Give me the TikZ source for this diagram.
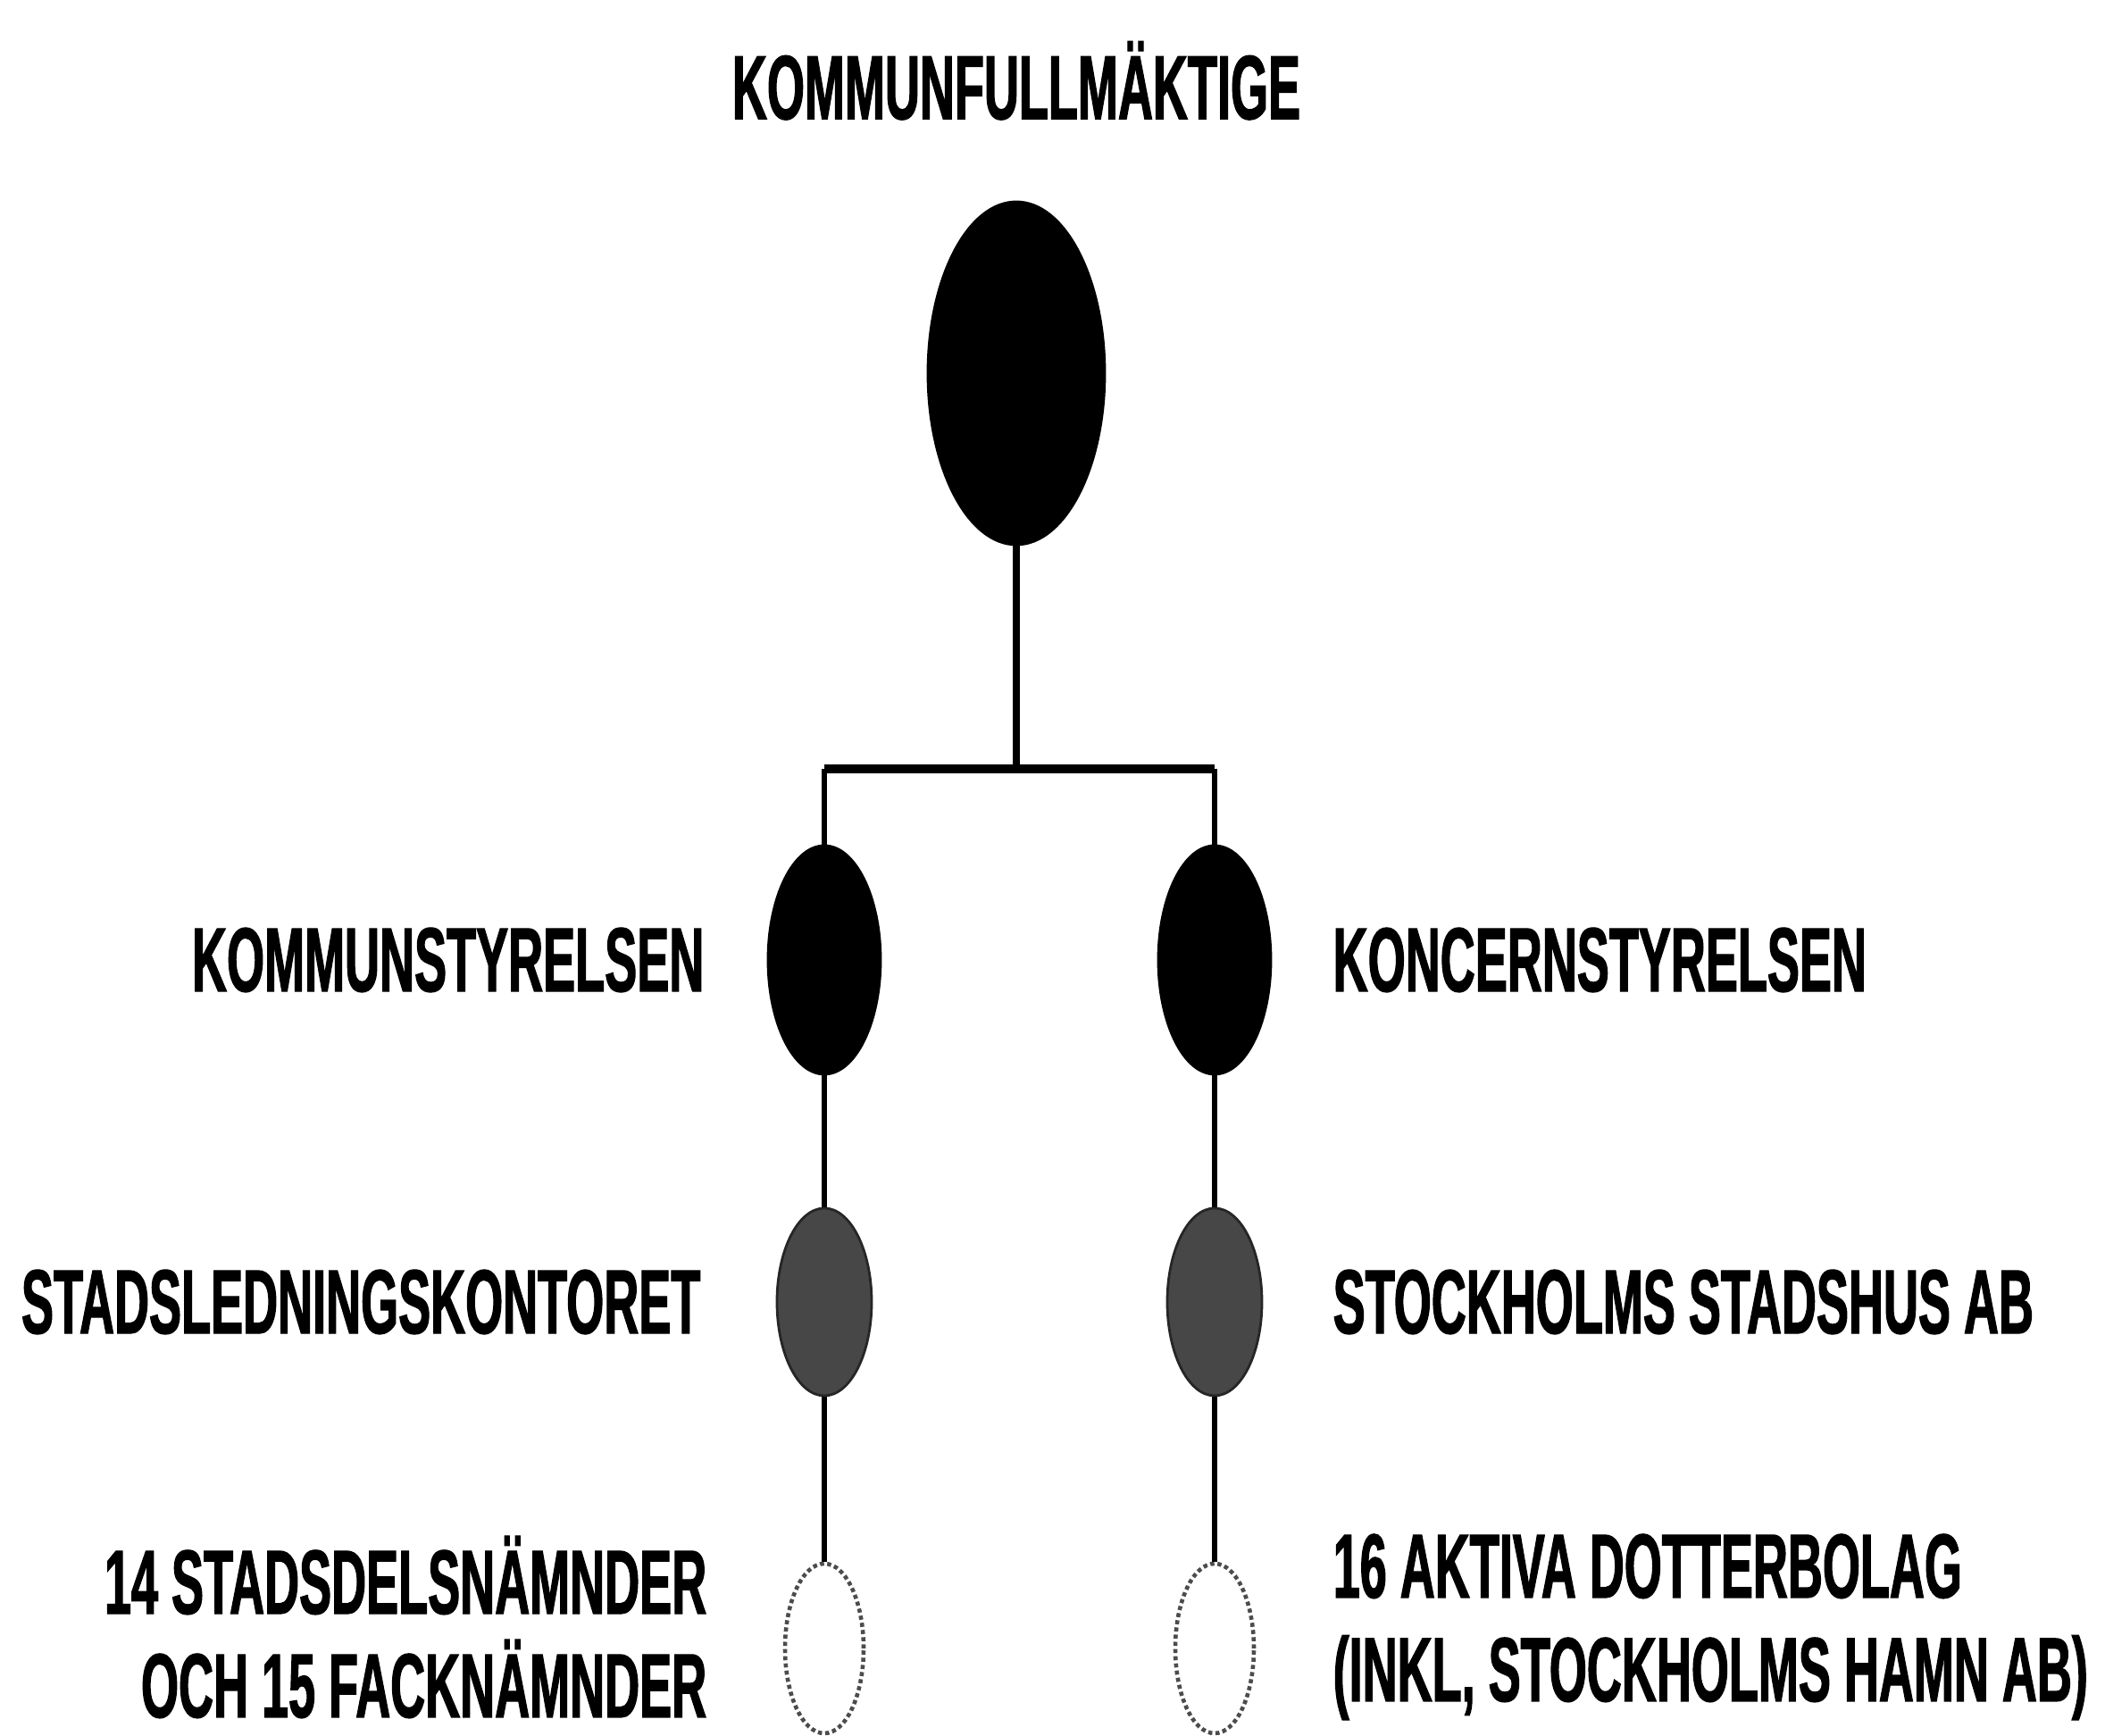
\documentclass[tikz,border=0pt]{standalone}
\usepackage{fontspec}
\newfontfamily\orgfont{Liberation Sans Bold}[FakeStretch=0.53,FakeBold=1.2]
\usetikzlibrary{positioning,shapes.geometric}

\begin{document}
\begin{tikzpicture}[on grid,node distance=2cm,
every node/.style={inner sep=0pt},
organ/.style={ellipse,fill=black,draw=black,thick},
kontor/.style={ellipse,fill=black!72,draw=black!85,thick},
namnd/.style={ellipse,fill=white,draw=black!70,densely dotted,line width=1.3pt},
etikett/.style={font=\orgfont\fontsize{29}{33}\selectfont}]

\tikzset{stam/.style={black,line width=2.1pt},
         balk/.style={black,line width=2.9pt},
         gren/.style={black,line width=1.5pt}}

\useasboundingbox (0,0) rectangle (23.57,19.44);

\node[organ] (KF) at (11.38,15.26) [minimum width=1.98cm,minimum height=3.84cm] {};
\node[etikett] (KFtext) [above=2.83cm of KF,anchor=south] {KOMMUNFULLMÄKTIGE};
\coordinate[below=4.43cm of KF] (bar);

\node[organ] (KS) [below left=2.14cm and 2.15cm of bar,anchor=center,minimum width=1.26cm,minimum height=2.56cm] {};
\node[organ] (KO) [below right=2.14cm and 2.22cm of bar,anchor=center,minimum width=1.26cm,minimum height=2.56cm] {};
\node[kontor] (SLK) [below=3.83cm of KS,minimum width=1.06cm,minimum height=2.1cm] {};
\node[kontor] (SSAB) [below=3.83cm of KO,minimum width=1.06cm,minimum height=2.1cm] {};
\node[namnd] (SDN) [below=3.88cm of SLK,minimum width=0.88cm,minimum height=1.9cm] {};
\node[namnd] (DB) [below=3.88cm of SSAB,minimum width=0.88cm,minimum height=1.9cm] {};

\node[etikett] (KStext) [left=1.34cm of KS,anchor=east] {KOMMUNSTYRELSEN};
\node[etikett] (KOtext) [right=1.32cm of KO,anchor=west] {KONCERNSTYRELSEN};
\node[etikett] (SLKtext) [left=1.38cm of SLK,anchor=east] {STADSLEDNINGSKONTORET};
\node[etikett] (SSABtext) [right=1.32cm of SSAB,anchor=west] {STOCKHOLMS STADSHUS AB};
\node[etikett,align=right] (SDNtext) [left=1.31cm of SDN,anchor=east,yshift=0.24cm] {14 STADSDELSNÄMNDER\\OCH 15 FACKNÄMNDER};
\node[etikett,align=left] (DBtext) [right=1.32cm of DB,anchor=west,yshift=0.24cm] {16 AKTIVA DOTTERBOLAG\\(INKL, STOCKHOLMS HAMN AB)};

\draw[stam] (KF.south) -- (bar);
\draw[balk] (KS |- bar) -- (KO |- bar);
\draw[gren] (KS |- bar) -- (KS.north);
\draw[gren] (KO |- bar) -- (KO.north);
\draw[gren] (KS.south) -- (SLK.north);
\draw[gren] (KO.south) -- (SSAB.north);
\draw[gren] (SLK.south) -- (SDN.north);
\draw[gren] (SSAB.south) -- (DB.north);
\end{tikzpicture}
\end{document}
